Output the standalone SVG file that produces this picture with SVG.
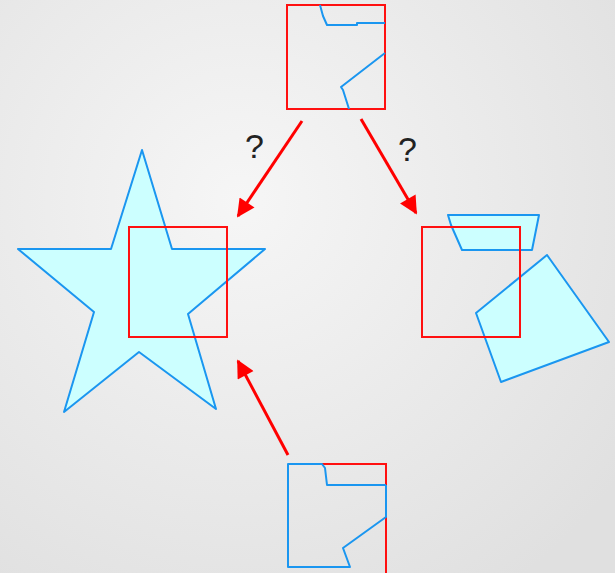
<svg xmlns="http://www.w3.org/2000/svg" width="615" height="573" viewBox="0 0 615 573">
  <defs>
    <radialGradient id="bg" cx="240" cy="200" r="470" gradientUnits="userSpaceOnUse">
      <stop offset="0" stop-color="#f6f6f6"/>
      <stop offset="1" stop-color="#e0e0e0"/>
    </radialGradient>
    <marker id="head" viewBox="0 0 10 10" refX="9" refY="5" markerWidth="7.5" markerHeight="6" markerUnits="strokeWidth" orient="auto">
      <path d="M0,0 L10,5 L0,10 z" fill="#ff0000"/>
    </marker>
    <style>
      .frame { fill: none; stroke: #ff1010; stroke-width: 2; }
      .shape { fill: #ccffff; stroke: #1a96f0; stroke-width: 2; stroke-linejoin: round; }
      .edge { fill: none; stroke: #1a96f0; stroke-width: 2; stroke-linejoin: round; }
      .arrow { fill: none; stroke: #ff0000; stroke-width: 3; marker-end: url(#head); }
      .q { font-family: "Liberation Sans", Arial, sans-serif; font-size: 34px; fill: #222; }
    </style>
  </defs>

  <rect width="615" height="573" fill="url(#bg)"/>

  <!-- top: window with cut-out outline -->
  <g id="top-window">
    <rect class="frame" x="287" y="5" width="98" height="104"/>
    <polyline class="edge" points="320,5 323,16 327,25 357,25 357,23 385,23"/>
    <polyline class="edge" points="385,53 341,87 343,90 349,109"/>
  </g>

  <!-- left: star clipped by window -->
  <g id="star-case">
    <polygon class="shape" points="142,150 172,249 265,249 188,314 216,409 139,352 64,412 94,312 18,249 111,249"/>
    <rect class="frame" x="129" y="227" width="98" height="110"/>
  </g>

  <!-- right: separate polygons against window -->
  <g id="pieces-case">
    <polygon class="shape" points="448,215 539,215 532,250 462,250 451,225"/>
    <polygon class="shape" points="547,255 609,342 501,382 476,313"/>
    <rect class="frame" x="422" y="227" width="98" height="110"/>
  </g>

  <!-- bottom: window with outline following the border -->
  <g id="bottom-window">
    <polyline class="frame" points="322,464 386,464 386,575"/>
    <polyline class="edge" points="386,485 327,485 325,468 322,464 288,464 288,567 350,567 343,548 386,517 386,485"/>
  </g>

  <g id="connectors">
    <line class="arrow" x1="302" y1="121" x2="238" y2="216"/>
    <line class="arrow" x1="361" y1="119" x2="416" y2="213"/>
    <line class="arrow" x1="288" y1="455" x2="238" y2="361"/>
  </g>

  <g id="labels">
    <text class="q" x="245" y="158">?</text>
    <text class="q" x="398" y="161">?</text>
  </g>
</svg>
